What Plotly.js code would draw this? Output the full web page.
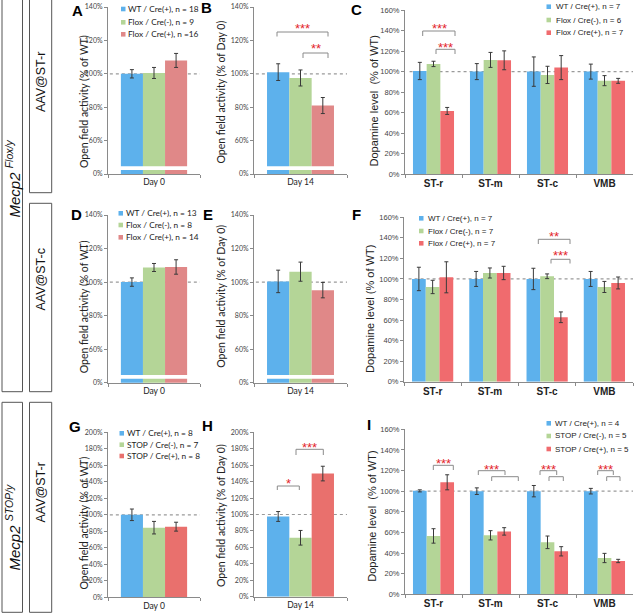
<!DOCTYPE html>
<html><head><meta charset="utf-8">
<script src="https://cdn.plot.ly/plotly-3.0.1.min.js"></script>
<style>html,body{margin:0;padding:0;background:#fff}#chart{width:640px;height:613px}</style>
</head><body><div id="chart"></div>
<script>
// ---------------- DATA ----------------
const day0 = ["Day 0"];
const day14 = ["Day 14"];
const regions = ["ST-r", "ST-m", "ST-c", "VMB"];

const legendA = ["WT / Cre(+), n = 18", "Flox / Cre(-), n = 9", "Flox / Cre(+), n =16"];
const legendC = ["WT / Cre(+), n = 7", "Flox / Cre(-), n = 6", "Flox / Cre(+), n = 7"];
const legendD = ["WT / Cre(+), n = 13", "Flox / Cre(-), n = 8", "Flox / Cre(+), n = 14"];
const legendF = ["WT / Cre(+), n = 7", "Flox / Cre(-), n = 7", "Flox / Cre(+), n = 7"];
const legendG = ["WT / Cre(+), n = 8", "STOP / Cre(-), n = 7", "STOP / Cre(+), n = 8"];
const legendI = ["WT / Cre(+), n = 4", "STOP / Cre(-), n = 5", "STOP / Cre(+), n = 5"];

// Panel A (Day 0, % of WT): WT, Flox/Cre(-), Flox/Cre(+)
const A_means = [100, 100.5, 108];
const A_errs = [2.5, 3.3, 4.2];
// Panel B (Day 14, % of Day 0)
const B_means = [101, 97.5, 81];
const B_errs = [5, 4.8, 4.8];
// Panel C (dopamine, % of WT) per region
const C_wt = [100.6, 100, 100, 100];
const C_wt_err = [8.4, 7.8, 14.3, 7.3];
const C_floxNeg = [107.5, 111.4, 96.8, 91.2];
const C_floxNeg_err = [2.6, 7.3, 8.4, 4.9];
const C_floxPos = [61.7, 111, 103.9, 91];
const C_floxPos_err = [3.4, 9.2, 11.7, 2.4];
// Panel D
const D_means = [100, 108.7, 109];
const D_errs = [2.5, 2.4, 4.3];
// Panel E
const E_means = [100.4, 106.2, 95.2];
const E_errs = [6.7, 5.7, 4.6];
// Panel F
const F_wt = [100, 100, 100, 100];
const F_wt_err = [11.4, 7.3, 10.4, 7.3];
const F_floxNeg = [92.2, 105.8, 102.6, 92.2];
const F_floxNeg_err = [6.5, 4.9, 2.3, 5.4];
const F_floxPos = [101.6, 105.8, 62.7, 96.1];
const F_floxPos_err = [15.1, 6.5, 5.2, 5.8];
// Panel G
const G_means = [100, 84.4, 85.6];
const G_errs = [7, 7.6, 5.4];
// Panel H
const H_means = [97.6, 71.7, 149.8];
const H_errs = [6, 8.9, 8.9];
// Panel I
const I_wt = [100.3, 100, 100, 100];
const I_wt_err = [1, 3.2, 5.5, 2.7];
const I_stopNeg = [56.6, 57.2, 50.4, 35.2];
const I_stopNeg_err = [7, 4.5, 6.1, 4.5];
const I_stopPos = [108.6, 61, 41.7, 32.3];
const I_stopPos_err = [7.3, 3.6, 4.5, 1.6];

// tick labels
const brokenTickVals = [40, 60, 80, 100, 120, 140];
const brokenTickText = ["0%", "60%", "80%", "100%", "120%", "140%"];
const tick200Vals = [0, 20, 40, 60, 80, 100, 120, 140, 160, 180, 200];
const tick200Text = ["0%", "20%", "40%", "60%", "80%", "100%", "120%", "140%", "160%", "180%", "200%"];
const tick160Vals = [0, 20, 40, 60, 80, 100, 120, 140, 160];
const tick160Text = ["0%", "20%", "40%", "60%", "80%", "100%", "120%", "140%", "160%"];

// ---------------- STYLE / LAYOUT ----------------
const W = 640, H = 613;
const X = v => v / W;
const Y = v => 1 - v / H;
const BLUE = "#5db1ec", GREEN = "#b4d597", RED_A = "#e08888", RED_C = "#f06b6e", RED_G = "#e9706d";
const LATO = "Lato, 'Liberation Sans', sans-serif";
const ARIAL = "'Liberation Sans', Arial, sans-serif";

const traces = [];
const layout = {
  width: W, height: H, margin: {l: 0, r: 0, t: 0, b: 0},
  paper_bgcolor: "#fff", plot_bgcolor: "rgba(0,0,0,0)",
  barmode: "group", bargap: 0.28, bargroupgap: 0, showlegend: false,
  shapes: [], annotations: []
};

function addPanel(n, cats, vals, errs, colors, names) {
  const ax = n === 1 ? "" : String(n);
  for (let s = 0; s < 3; s++) {
    traces.push({
      type: "bar", x: cats, y: vals[s], name: names[s],
      error_y: {type: "data", array: errs[s], visible: true, color: "#3a3a3a", thickness: 1, width: 2},
      marker: {color: colors[s], line: {width: 0}},
      xaxis: "x" + ax, yaxis: "y" + ax, showlegend: false, hoverinfo: "skip"
    });
  }
}

function addAxes(n, box, cats, yopt, catFont, tickFont) {
  const ax = n === 1 ? "" : String(n);
  layout["xaxis" + ax] = {
    domain: [X(box.x[0]), X(box.x[1])], anchor: "y" + ax, type: "category",
    range: [-0.5, cats.length - 0.5], showline: true, linecolor: "#8a8a8a", linewidth: 1,
    ticks: "outside", tickson: "boundaries", ticklen: 3, tickcolor: "#8a8a8a",
    showgrid: false, zeroline: false, tickfont: catFont, fixedrange: true
  };
  layout["yaxis" + ax] = Object.assign({
    domain: [Y(box.y[1]), Y(box.y[0])], anchor: "x" + ax, showline: true, linecolor: "#8a8a8a",
    linewidth: 1, ticks: "outside", ticklen: 3, tickcolor: "#8a8a8a", showgrid: false,
    zeroline: false, tickfont: tickFont, fixedrange: true, tickmode: "array"
  }, yopt);
  // dashed 100% reference line
  layout.shapes.push({type: "line", xref: "x" + ax + " domain", yref: "y" + ax, x0: 0.02, x1: 1, y0: 100, y1: 100,
    line: {color: "#9a9a9a", width: 1.2, dash: "dot"}, layer: "below"});
}

function addBreak(n) {
  const ax = n === 1 ? "" : String(n);
  layout.shapes.push({type: "rect", xref: "x" + ax, yref: "y" + ax, x0: -0.38, x1: 0.38, y0: 42.4, y1: 44.6,
    fillcolor: "#fff", line: {width: 0}, layer: "above"});
}

const smallTickL = {family: LATO, size: 7, color: "#444"};
const smallTickA = {family: ARIAL, size: 7.5, color: "#444"};
const catL = {family: LATO, size: 8.5, color: "#222"};
const catA = {family: ARIAL, size: 10, color: "#222", weight: "bold"};
const yBroken = {range: [40, 140], tickvals: brokenTickVals, ticktext: brokenTickText};
const y200 = {range: [0, 200], tickvals: tick200Vals, ticktext: tick200Text};
const y160 = {range: [0, 160], tickvals: tick160Vals, ticktext: tick160Text};

const boxes = {
  1: {x: [108, 200], y: [7, 174]},
  2: {x: [254, 347], y: [7, 174]},
  3: {x: [405, 633], y: [10, 174.3]},
  4: {x: [108, 200], y: [215, 382.7]},
  5: {x: [254, 347], y: [215, 382.7]},
  6: {x: [404, 633], y: [217.3, 381.7]},
  7: {x: [108, 200], y: [432.3, 597.3]},
  8: {x: [254, 347], y: [432.3, 596.7]},
  9: {x: [405, 633], y: [429.3, 594.3]}
};

const one = arr => arr.map(v => [v]);
addPanel(1, day0, one(A_means), one(A_errs), [BLUE, GREEN, RED_A], legendA);
addPanel(2, day14, one(B_means), one(B_errs), [BLUE, GREEN, RED_A], legendA);
addPanel(3, regions, [C_wt, C_floxNeg, C_floxPos], [C_wt_err, C_floxNeg_err, C_floxPos_err], [BLUE, GREEN, RED_C], legendC);
addPanel(4, day0, one(D_means), one(D_errs), [BLUE, GREEN, RED_A], legendD);
addPanel(5, day14, one(E_means), one(E_errs), [BLUE, GREEN, RED_A], legendD);
addPanel(6, regions, [F_wt, F_floxNeg, F_floxPos], [F_wt_err, F_floxNeg_err, F_floxPos_err], [BLUE, GREEN, RED_C], legendF);
addPanel(7, day0, one(G_means), one(G_errs), [BLUE, GREEN, RED_G], legendG);
addPanel(8, day14, one(H_means), one(H_errs), [BLUE, GREEN, RED_G], legendG);
addPanel(9, regions, [I_wt, I_stopNeg, I_stopPos], [I_wt_err, I_stopNeg_err, I_stopPos_err], [BLUE, GREEN, RED_C], legendI);

addAxes(1, boxes[1], day0, yBroken, catL, smallTickL);
addAxes(2, boxes[2], day14, yBroken, catL, smallTickL);
addAxes(3, boxes[3], regions, y160, catA, smallTickA);
addAxes(4, boxes[4], day0, yBroken, catL, smallTickL);
addAxes(5, boxes[5], day14, yBroken, catL, smallTickL);
addAxes(6, boxes[6], regions, y160, catA, smallTickA);
addAxes(7, boxes[7], day0, y200, catL, smallTickL);
addAxes(8, boxes[8], day14, y200, catL, smallTickL);
addAxes(9, boxes[9], regions, y160, catA, smallTickA);
[1, 2, 4, 5].forEach(addBreak);

// ---- annotations helpers ----
function text(t, x, y, font, opts) {
  layout.annotations.push(Object.assign({text: t, xref: "paper", yref: "paper", x: X(x), y: Y(y),
    showarrow: false, xanchor: "center", yanchor: "middle", font: font}, opts || {}));
}

// panel letters
const letterFont = {family: ARIAL, size: 15, color: "#000", weight: "bold"};
[["A", 77.5, 10.5], ["B", 206.7, 7], ["C", 356.7, 9], ["D", 76.7, 214.7], ["E", 207.5, 214],
 ["F", 356, 214], ["G", 75, 426], ["H", 207.5, 425.5], ["I", 369, 424]]
  .forEach(l => text(l[0], l[1], l[2], letterFont));

// y-axis titles
const titleL = {family: LATO, size: 10.5, color: "#222"};
const titleA = {family: ARIAL, size: 11, color: "#222"};
text("Open field activity (% of WT)", 83.5, 101.5, titleL, {textangle: -90});
text("Open field activity (% of Day 0)", 221, 92.5, titleL, {textangle: -90});
text("Dopamine level  (% of WT)", 373, 101.5, titleA, {textangle: -90});
text("Open field activity (% of WT)", 83.5, 306.7, titleL, {textangle: -90});
text("Open field activity (% of Day 0)", 221, 296.7, titleL, {textangle: -90});
text("Dopamine level (% of WT)", 370, 309, titleA, {textangle: -90});
text("Open field activity (% of WT)", 83.5, 523, titleL, {textangle: -90});
text("Open field activity (% of Day 0)", 221, 516, titleL, {textangle: -90});
text("Dopamine level  (% of WT)", 372, 516.7, titleA, {textangle: -90});

// legends (square + label)
function legend(labels, colors, sqx, tx, rows, font) {
  for (let i = 0; i < 3; i++) {
    layout.shapes.push({type: "rect", xref: "paper", yref: "paper", x0: X(sqx), x1: X(sqx + 4.5),
      y0: Y(rows[i] + 2.3), y1: Y(rows[i] - 2.3), fillcolor: colors[i], line: {width: 0}});
    text(labels[i], tx, rows[i], font, {xanchor: "left"});
  }
}
const legFontL = {family: LATO, size: 8.3, color: "#222"};
const legFontA = {family: ARIAL, size: 8, color: "#222"};
legend(legendA, [BLUE, GREEN, RED_A], 121, 125.5, [9, 22.3, 34.3], legFontL);
legend(legendC, [BLUE, GREEN, RED_C], 546.5, 554, [6.7, 20, 32.7], legFontA);
legend(legendD, [BLUE, GREEN, RED_A], 118.5, 123.5, [213.3, 225, 237.3], legFontL);
legend(legendF, [BLUE, GREEN, RED_C], 419, 426, [218.3, 231, 243.3], legFontA);
legend(legendG, [BLUE, GREEN, RED_G], 119.5, 124.5, [433.3, 444.7, 456], legFontL);
legend(legendI, [BLUE, GREEN, RED_C], 546.5, 553.3, [423.3, 436, 449], legFontA);

// significance brackets
const starFont = {family: ARIAL, size: 13, color: "#e3262b"};
function bracket(x0, x1, yt, yb, stars, sx, sy) {
  layout.shapes.push({type: "path", xref: "paper", yref: "paper",
    path: `M ${X(x0)},${Y(yb)} L ${X(x0)},${Y(yt)} L ${X(x1)},${Y(yt)} L ${X(x1)},${Y(yb)}`,
    line: {color: "#8a8a8a", width: 1}});
  if (stars) text(stars, sx, sy + 3, starFont);
}
bracket(277, 328, 32, 36.5, "***", 302.5, 25);
bracket(303, 328, 53, 58, "**", 315.5, 46);
bracket(422.7, 455, 31, 36, "***", 439, 25.5);
bracket(436, 455, 49.3, 54, "***", 445.5, 44);
bracket(538.3, 570, 239.3, 244, "**", 554, 233);
bracket(551, 570, 259.3, 263.5, "***", 560.5, 252.5);
bracket(277.3, 299.3, 486, 490, "*", 288, 480);
bracket(296, 323.3, 449.3, 455, "***", 309.7, 444);
bracket(433.3, 453.3, 465.3, 470, "***", 443, 460);
bracket(478.3, 505, 470.7, 475, "***", 491.7, 466);
bracket(491.7, 518.3, 476.7, 481, "", 0, 0);
bracket(540, 556.7, 470.7, 475, "***", 548, 466);
bracket(549, 563.3, 476.7, 481, "", 0, 0);
bracket(597.7, 613.3, 470.7, 475, "***", 605.5, 466);
bracket(606.7, 620, 476.7, 481, "", 0, 0);

// left label boxes
function box(x0, x1, y0, y1) {
  layout.shapes.push({type: "rect", xref: "paper", yref: "paper", x0: X(x0), x1: X(x1), y0: Y(y1), y1: Y(y0),
    line: {color: "#555", width: 1}, fillcolor: "rgba(0,0,0,0)"});
}
box(2, 22.5, -3, 391.7);
box(29.5, 51.7, -3, 192.7);
box(29.5, 51.7, 203.3, 391.7);
box(2, 22.5, 402.3, 612.3);
box(29.5, 51.7, 402.3, 612.3);
const geneFont = {family: ARIAL, size: 15, color: "#111"};
const aavFont = {family: ARIAL, size: 12.5, color: "#111"};
text("<i>Mecp2</i> <sup><i>Flox/y</i></sup>", 12.5, 179, geneFont, {textangle: -90});
text("<i>Mecp2</i> <sup><i>STOP/y</i></sup>", 12.5, 527, geneFont, {textangle: -90});
text("AAV@ST-r", 40.5, 82.5, aavFont, {textangle: -90});
text("AAV@ST-c", 40.5, 280, aavFont, {textangle: -90});
text("AAV@ST-r", 40.5, 493, aavFont, {textangle: -90});

Plotly.newPlot("chart", traces, layout, {staticPlot: true, displayModeBar: false});
</script>
</body></html>
